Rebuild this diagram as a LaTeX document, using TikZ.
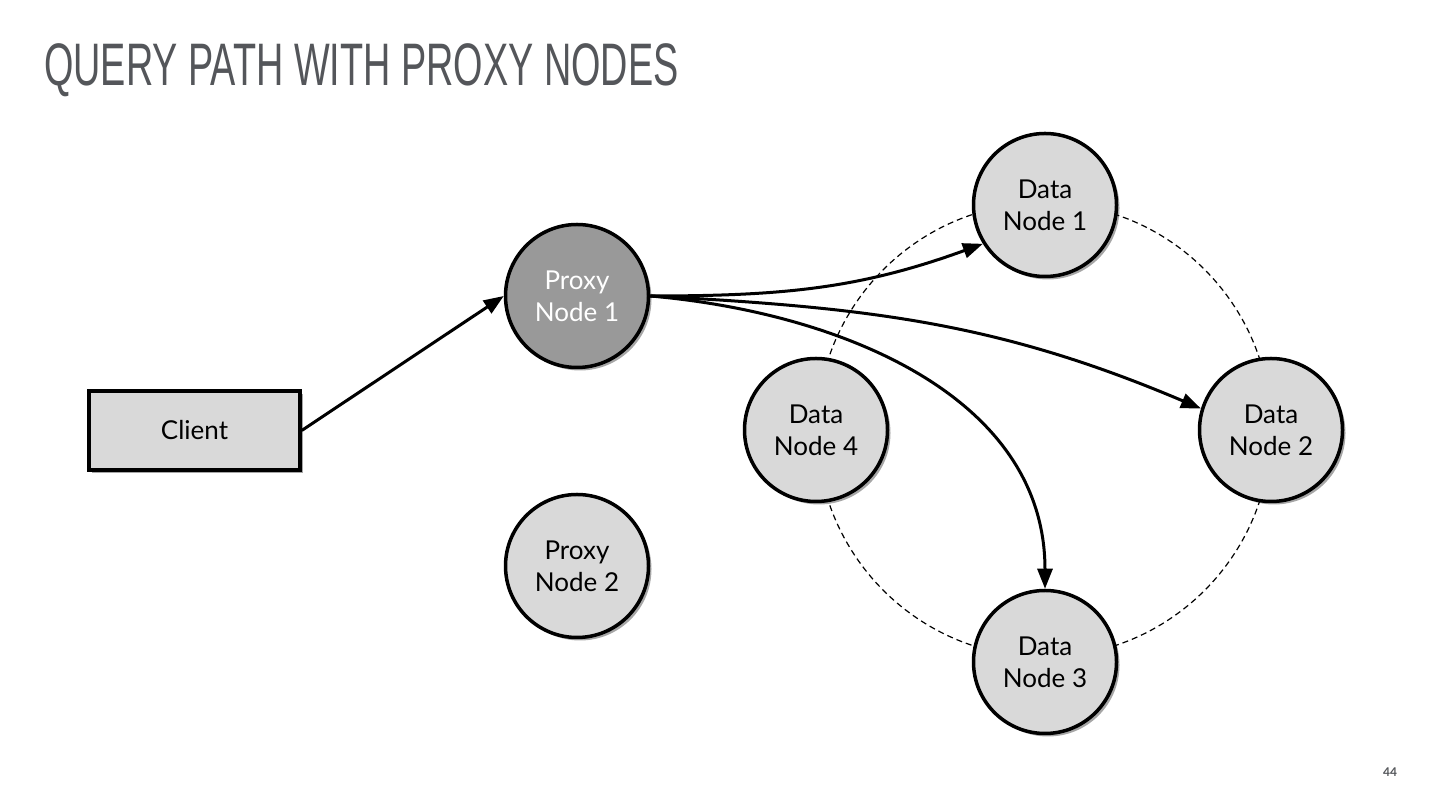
\documentclass[tikz,border=0pt]{standalone}
\usepackage{fontspec}
\setmainfont{Lato}
\newfontfamily\titlefont[FakeStretch=0.63]{Liberation Sans}
\usetikzlibrary{arrows.meta,shadows}
\definecolor{nodefill}{HTML}{D9D9D9}
\definecolor{proxyfill}{HTML}{999999}
\definecolor{titlegray}{HTML}{54565A}
\tikzset{
  shade/.style={drop shadow={shadow xshift=3pt,shadow yshift=-3pt,fill=black,opacity=0.35}},
  roundnode/.style={circle,draw=black,line width=3.5pt,fill=nodefill,minimum size=143pt,inner sep=0pt,
    align=center,font=\fontsize{26}{32}\selectfont,shade},
  proxyactive/.style={roundnode,fill=proxyfill,text=white},
  clientbox/.style={rectangle,draw=black,line width=3.5pt,fill=nodefill,minimum width=211pt,minimum height=79pt,
    font=\fontsize{26}{32}\selectfont,shade},
  conn/.style={line width=3pt,-{Triangle[length=20pt,width=15pt]}},
  ring/.style={dashed,line width=1.2pt,dash pattern=on 6pt off 4pt}
}
\begin{document}
\begin{tikzpicture}[x=1pt,y=1pt]
\useasboundingbox (0,0) rectangle (1440,810);
\fill[white] (0,0) rectangle (1440,810);
\node[anchor=base west,text=titlegray,font=\titlefont\fontsize{60}{66}\selectfont,inner sep=0pt] (title) at (44,724) {QUERY PATH WITH PROXY NODES};
\node[text=titlegray,font=\fontsize{12}{14}\selectfont\bfseries] (page) at (1390,38) {44};
\coordinate (ringc) at (1044,380);
\draw[ring] (ringc) circle[radius=227];
\node[clientbox] (client) at (194.5,379.5) {Client};
\node[proxyactive] (p1) at (577,514) {Proxy\\Node 1};
\node[roundnode] (p2) at (577,244) {Proxy\\Node 2};
\node[roundnode] (dn1) at (1045,605) {Data\\Node 1};
\node[roundnode] (dn2) at (1271,380) {Data\\Node 2};
\node[roundnode] (dn3) at (1045,148) {Data\\Node 3};
\node[roundnode] (dn4) at (816,380) {Data\\Node 4};
\draw[conn] (client.east) -- (p1.west);
\draw[conn] (p1.east) to[out=0,in=200] (dn1.212);
\draw[conn] (p1.east) to[out=-3,in=157] (dn2.163);
\draw[conn] (p1.east) to[out=-5,in=90] (dn3.north);
\end{tikzpicture}
\end{document}
